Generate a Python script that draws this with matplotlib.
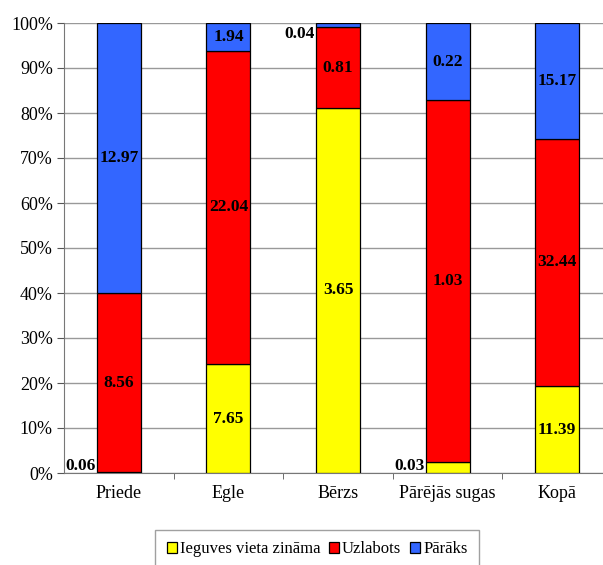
import matplotlib
matplotlib.use("Agg")
import matplotlib.pyplot as plt
import numpy as np

plt.rcParams['font.family'] = ['Liberation Serif', 'DejaVu Serif']

# data
species = ['Priede', 'Egle', 'Bērzs', 'Pārējās sugas', 'Kopā']
known = [0.06, 7.65, 3.65, 0.03, 11.39]      # Ieguves vieta zināma
improved = [8.56, 22.04, 0.81, 1.03, 32.44]  # Uzlabots
worse = [12.97, 1.94, 0.04, 0.22, 15.17]     # Pārāks
series_names = ['Ieguves vieta zināma', 'Uzlabots', 'Pārāks']
colors = ['#FFFF00', '#FF0000', '#3366FF']

vals = np.array([known, improved, worse])
share = vals / vals.sum(axis=0) * 100

fig = plt.figure(figsize=(6.03, 5.65), dpi=100)
ax = fig.add_axes([64/603, 92/565, 548/603, 450/565])

x = np.arange(len(species))
width = 0.4
bottom = np.zeros(len(species))
bars = []
for i in range(3):
    b = ax.bar(x, share[i], width, bottom=bottom, color=colors[i],
               edgecolor='k', linewidth=0.9, label=series_names[i], zorder=3)
    bars.append(b)
    for j in range(len(species)):
        yc = bottom[j] + share[i][j] / 2
        if share[i][j] < 3:
            yc = min(max(yc, 1.5), 97.6)
            ax.text(x[j] - width/2 - 0.01, yc, f'{vals[i][j]:.2f}', ha='right',
                    va='center', fontsize=12.5, fontweight='bold', zorder=4)
        else:
            ax.text(x[j], yc, f'{vals[i][j]:.2f}', ha='center', va='center',
                    fontsize=12.5, fontweight='bold', zorder=4)
    bottom += share[i]

ax.set_xlim(-0.5, len(species) - 0.5)
ax.set_ylim(0, 100)
ax.set_yticks(np.arange(0, 101, 10))
ax.set_yticklabels([f'{v}%' for v in range(0, 101, 10)])
ax.set_xticks(x)
ax.set_xticklabels(species)
ax.set_xticks(np.arange(0.5, len(species) - 0.5, 1), minor=True)
ax.tick_params(axis='x', which='major', length=0, pad=9, labelsize=13)
ax.tick_params(axis='x', which='minor', length=4, color='#555555')
ax.tick_params(axis='y', length=5, labelsize=13, color='#555555', pad=3)
ax.yaxis.grid(True, color='#999999', linewidth=1, zorder=0)
for s in ['top', 'right']:
    ax.spines[s].set_visible(False)
ax.spines['left'].set_color('#777777')
ax.spines['bottom'].set_color('#777777')

leg = fig.legend(handles=bars, labels=series_names, loc='lower center',
                 bbox_to_anchor=(317/603, -0.022), ncol=3, frameon=True,
                 fancybox=False, edgecolor='#888888', fontsize=12,
                 handlelength=0.6, handleheight=0.6, handletextpad=0.2,
                 columnspacing=0.5, borderpad=0.7, borderaxespad=0.5)

fig.savefig('out.png', dpi=100)
